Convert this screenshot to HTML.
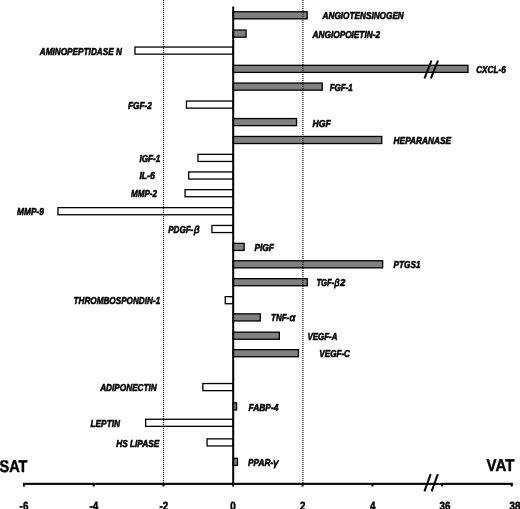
<!DOCTYPE html>
<html>
<head>
<meta charset="utf-8">
<title>SAT vs VAT expression chart</title>
<style>
html,body{margin:0;padding:0;background:#fff;overflow:hidden}
svg{display:block}
text{text-rendering:geometricPrecision;font-family:"Liberation Sans",sans-serif;font-weight:bold;fill:#000;stroke:#000;stroke-width:0.55px}
.l{font-style:italic;font-size:10.1px}
.g{font-weight:normal;stroke-width:0.75px}
.t{font-size:12px;stroke-width:0.5px}
.b{font-size:17px;stroke-width:0.45px}
.bar rect{stroke:#000;stroke-width:1.3}
</style>
</head>
<body>
<svg width="520" height="509" viewBox="0 0 520 509">
<rect width="520" height="509" fill="#fff"/>
<g class="bar">
<rect x="233.20" y="11.75" width="73.95" height="7.1" fill="#808080"/>
<rect x="233.20" y="30.05" width="12.85" height="7.1" fill="#808080"/>
<rect x="134.95" y="47.05" width="98.25" height="7.1" fill="#fff"/>
<rect x="233.20" y="65.30" width="234.75" height="7.1" fill="#808080"/>
<rect x="233.20" y="83.05" width="89.05" height="7.1" fill="#808080"/>
<rect x="186.45" y="101.05" width="46.75" height="7.1" fill="#fff"/>
<rect x="233.20" y="118.55" width="63.35" height="7.1" fill="#808080"/>
<rect x="233.20" y="136.45" width="148.55" height="7.1" fill="#808080"/>
<rect x="197.95" y="154.35" width="35.25" height="7.1" fill="#fff"/>
<rect x="188.65" y="171.95" width="44.55" height="7.1" fill="#fff"/>
<rect x="185.05" y="189.65" width="48.15" height="7.1" fill="#fff"/>
<rect x="57.95" y="207.65" width="175.25" height="7.1" fill="#fff"/>
<rect x="211.95" y="225.45" width="21.25" height="7.1" fill="#fff"/>
<rect x="233.20" y="243.35" width="10.95" height="7.1" fill="#808080"/>
<rect x="233.20" y="260.75" width="149.45" height="7.1" fill="#808080"/>
<rect x="233.20" y="278.65" width="74.05" height="7.1" fill="#808080"/>
<rect x="225.25" y="296.65" width="7.95" height="7.1" fill="#fff"/>
<rect x="233.20" y="313.85" width="27.05" height="7.1" fill="#808080"/>
<rect x="233.20" y="332.15" width="46.15" height="7.1" fill="#808080"/>
<rect x="233.20" y="349.65" width="65.25" height="7.1" fill="#808080"/>
<rect x="202.85" y="383.55" width="30.35" height="7.1" fill="#fff"/>
<rect x="233.20" y="402.85" width="3.35" height="7.1" fill="#808080"/>
<rect x="145.65" y="419.25" width="87.55" height="7.1" fill="#fff"/>
<rect x="207.05" y="438.85" width="26.15" height="7.1" fill="#fff"/>
<rect x="233.20" y="458.35" width="4.25" height="7.1" fill="#808080"/>
</g>
<text class="l" x="322.6" y="19.40" textLength="81.2" lengthAdjust="spacingAndGlyphs">ANGIOTENSINOGEN</text>
<text class="l" x="312.6" y="37.60" textLength="67.4" lengthAdjust="spacingAndGlyphs">ANGIOPOIETIN-2</text>
<text class="l" x="39.7" y="54.70" textLength="82.3" lengthAdjust="spacingAndGlyphs">AMINOPEPTIDASE N</text>
<text class="l" x="476.2" y="72.90" textLength="29.5" lengthAdjust="spacingAndGlyphs">CXCL-6</text>
<text class="l" x="329.7" y="90.80" textLength="23.1" lengthAdjust="spacingAndGlyphs">FGF-1</text>
<text class="l" x="127.9" y="108.50" textLength="23.9" lengthAdjust="spacingAndGlyphs">FGF-2</text>
<text class="l" x="312.6" y="126.60" textLength="18.1" lengthAdjust="spacingAndGlyphs">HGF</text>
<text class="l" x="393.6" y="144.00" textLength="57.5" lengthAdjust="spacingAndGlyphs">HEPARANASE</text>
<text class="l" x="139.4" y="161.70" textLength="20.9" lengthAdjust="spacingAndGlyphs">IGF-1</text>
<text class="l" x="139.4" y="179.40" textLength="15.4" lengthAdjust="spacingAndGlyphs">IL-6</text>
<text class="l" x="130.9" y="197.10" textLength="26.1" lengthAdjust="spacingAndGlyphs">MMP-2</text>
<text class="l" x="17.1" y="215.10" textLength="26.9" lengthAdjust="spacingAndGlyphs">MMP-9</text>
<text class="l" x="168.2" y="232.80" textLength="25.1" lengthAdjust="spacingAndGlyphs">PDGF-</text>
<text class="l g" x="193.9" y="232.80" textLength="5.5" lengthAdjust="spacingAndGlyphs">β</text>
<text class="l" x="254.4" y="250.70" textLength="19.6" lengthAdjust="spacingAndGlyphs">PlGF</text>
<text class="l" x="393.6" y="268.20" textLength="26.9" lengthAdjust="spacingAndGlyphs">PTGS1</text>
<text class="l" x="316.4" y="286.10" textLength="17.8" lengthAdjust="spacingAndGlyphs">TGF-</text>
<text class="l g" x="334.6" y="286.10" textLength="5.0" lengthAdjust="spacingAndGlyphs">β</text>
<text class="l" x="340.0" y="286.10" textLength="5.3" lengthAdjust="spacingAndGlyphs">2</text>
<text class="l" x="73.5" y="304.40" textLength="86.7" lengthAdjust="spacingAndGlyphs">THROMBOSPONDIN-1</text>
<text class="l" x="271.0" y="321.10" textLength="18.2" lengthAdjust="spacingAndGlyphs">TNF-</text>
<text class="l g" x="289.4" y="321.10" textLength="5.8" lengthAdjust="spacingAndGlyphs">α</text>
<text class="l" x="307.5" y="339.60" textLength="29.9" lengthAdjust="spacingAndGlyphs">VEGF-A</text>
<text class="l" x="319.3" y="357.10" textLength="30.7" lengthAdjust="spacingAndGlyphs">VEGF-C</text>
<text class="l" x="100.2" y="390.80" textLength="56.6" lengthAdjust="spacingAndGlyphs">ADIPONECTIN</text>
<text class="l" x="248.5" y="410.90" textLength="30.0" lengthAdjust="spacingAndGlyphs">FABP-4</text>
<text class="l" x="90.5" y="426.85" textLength="29.5" lengthAdjust="spacingAndGlyphs">LEPTIN</text>
<text class="l" x="116.2" y="446.50" textLength="43.0" lengthAdjust="spacingAndGlyphs">HS LIPASE</text>
<text class="l" x="248.0" y="466.10" textLength="25.2" lengthAdjust="spacingAndGlyphs">PPAR-</text>
<text class="l g" x="273.3" y="466.10" textLength="5.0" lengthAdjust="spacingAndGlyphs">γ</text>
<line x1="163.5" y1="0" x2="163.5" y2="483" stroke="#000" stroke-width="1.15" stroke-dasharray="1 1"/>
<line x1="302.9" y1="0" x2="302.9" y2="483" stroke="#000" stroke-width="1.15" stroke-dasharray="1 1"/>
<rect x="232.2" y="6.6" width="2" height="478.4" fill="#000"/>
<rect x="23" y="482.8" width="414.5" height="2.1" fill="#000"/>
<rect x="437" y="483.1" width="5" height="1.8" fill="#000"/>
<rect x="441" y="482.8" width="71.7" height="2.1" fill="#000"/>
<rect x="23" y="483" width="2" height="3.5" fill="#000"/>
<text class="t" x="19.62" y="510.1" textLength="8.75" lengthAdjust="spacingAndGlyphs">-6</text>
<rect x="92.7" y="483" width="2" height="3.5" fill="#000"/>
<text class="t" x="89.38" y="510.1" textLength="8.75" lengthAdjust="spacingAndGlyphs">-4</text>
<rect x="162.5" y="483" width="2" height="3.5" fill="#000"/>
<text class="t" x="159.53" y="510.1" textLength="8.75" lengthAdjust="spacingAndGlyphs">-2</text>
<rect x="232.1" y="483" width="2" height="3.5" fill="#000"/>
<text class="t" x="230.26" y="510.1" textLength="5.47" lengthAdjust="spacingAndGlyphs">0</text>
<rect x="301.6" y="483" width="2" height="3.5" fill="#000"/>
<text class="t" x="300.06" y="510.1" textLength="5.47" lengthAdjust="spacingAndGlyphs">2</text>
<rect x="371.4" y="483" width="2" height="3.5" fill="#000"/>
<text class="t" x="370.06" y="510.1" textLength="5.47" lengthAdjust="spacingAndGlyphs">4</text>
<rect x="441" y="483" width="2" height="3.5" fill="#000"/>
<text class="t" x="439.53" y="510.1" textLength="10.94" lengthAdjust="spacingAndGlyphs">36</text>
<rect x="510.7" y="483" width="2" height="3.5" fill="#000"/>
<text class="t" x="509.43" y="510.1" textLength="10.94" lengthAdjust="spacingAndGlyphs">38</text>
<line x1="424.4" y1="491.4" x2="430.7" y2="474.1" stroke="#000" stroke-width="2.0"/>
<line x1="431.6" y1="491.4" x2="437.9" y2="474.1" stroke="#000" stroke-width="2.0"/>
<line x1="424.5" y1="78.3" x2="431.5" y2="60.5" stroke="#000" stroke-width="2.0"/>
<line x1="430.9" y1="78.3" x2="438" y2="60.5" stroke="#000" stroke-width="2.0"/>
<text class="b" x="-0.5" y="471.9" textLength="28" lengthAdjust="spacingAndGlyphs">SAT</text>
<text class="b" x="486.6" y="470.5" textLength="27.8" lengthAdjust="spacingAndGlyphs">VAT</text>
</svg>
</body>
</html>
